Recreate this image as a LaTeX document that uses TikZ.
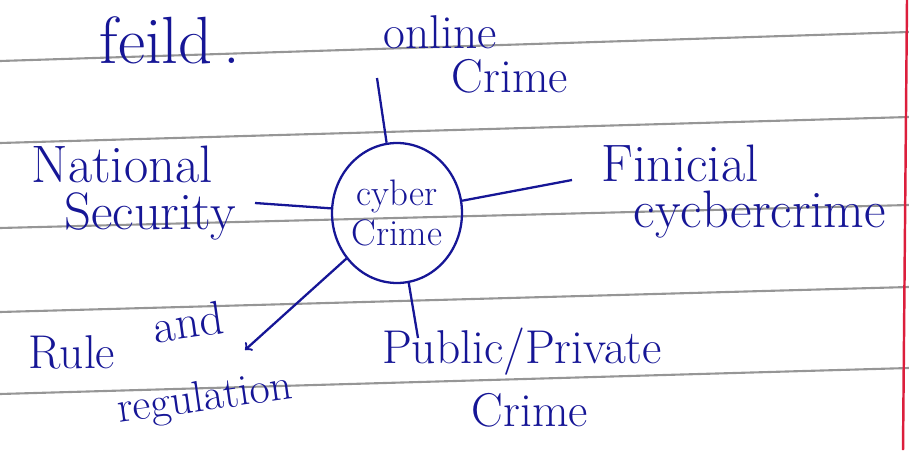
\documentclass[tikz,border=0pt]{standalone}
\usetikzlibrary{shapes.geometric}

\definecolor{ink}{RGB}{22,22,150}
\definecolor{rule}{RGB}{150,150,150}
\definecolor{margin}{RGB}{220,30,60}

\tikzset{
  hand/.style={text=ink, inner sep=0pt},
  inkline/.style={draw=ink, line width=1.3pt},
  paper/.style={draw=rule, line width=1.2pt}
}

\def\fsBig{\fontsize{30}{34}\selectfont}
\def\fsMid{\fontsize{27}{30}\selectfont}
\def\fsSmall{\fontsize{21}{24}\selectfont}

\begin{document}
\begin{tikzpicture}[x=0.02cm, y=-0.02cm]
    \useasboundingbox (0,0) rectangle (909,450);

    %%   ruled paper
    \foreach \yl/\yr in {61/32, 143/117, 228/205, 312/287, 394/368}
      \draw[paper] (0,\yl) -- (909,\yr);
    \draw[draw=margin, line width=1.4pt] (907,0) -- (903,450);

    %%   (lable)  (x, y)     {\text}
    \coordinate (COnline) at (377, 78);
    \coordinate (CFin)    at (572,180);
    \coordinate (CNat)    at (255,203);
    \coordinate (CPub)    at (418,338);
    \coordinate (CRule)   at (245,350);

    \node[shape=ellipse, inkline, hand, minimum width=2.6cm, minimum height=2.8cm, align=center] (Cyber) at (397,213) {\fsSmall cyber\\[3pt]\fsSmall Crime};

    \node[hand] (Feild)   at (170, 40) {\fontsize{38}{40}\selectfont feild\,.};

    \node[hand] (Online1) at (440, 32) {\fsMid online};
    \node[hand] (Online2) at (510, 76) {\fsMid Crime};

    \node[hand] (Nat1)    at (122,164) {\fsBig National};
    \node[hand] (Nat2)    at (150,216) {\fsBig Security};

    \node[hand] (Fin1)    at (680,163) {\fsBig Finicial};
    \node[hand] (Fin2)    at (760,215) {\fsBig cycbercrime};

    \node[hand]           (Rule1) at ( 72,352) {\fsMid Rule};
    \node[hand, rotate=8] (Rule2) at (188,322) {\fsMid and};
    \node[hand, rotate=8] (Rule3) at (205,400) {\fontsize{25}{28}\selectfont regulation};

    \node[hand] (Pub1)    at (522,352) {\fsMid Public/Private};
    \node[hand] (Pub2)    at (530,410) {\fsMid Crime};

    \path[inkline]    (Cyber) edge (COnline);
    \path[inkline]    (Cyber) edge (CFin);
    \path[inkline]    (Cyber) edge (CNat);
    \path[inkline]    (Cyber) edge (CPub);
    \path[inkline,->] (Cyber) edge (CRule);

\end{tikzpicture}
\end{document}
